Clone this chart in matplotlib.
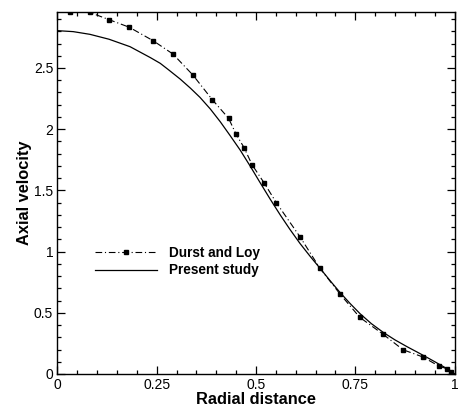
import numpy as np
from matplotlib import pyplot as plt
from matplotlib.ticker import MultipleLocator

plt.rcParams['font.family'] = ['Liberation Sans', 'DejaVu Sans']

# Durst and Loy (pontos medidos)
r_durst = [0.031, 0.081, 0.130, 0.181, 0.241, 0.291, 0.341, 0.390, 0.431, 0.450,
           0.470, 0.490, 0.521, 0.551, 0.611, 0.660, 0.712, 0.761, 0.820, 0.870,
           0.920, 0.961, 0.981, 0.991]
u_durst = [2.955, 2.955, 2.895, 2.833, 2.723, 2.614, 2.443, 2.241, 2.089, 1.958,
           1.849, 1.710, 1.558, 1.400, 1.119, 0.868, 0.651, 0.463, 0.324, 0.198,
           0.139, 0.063, 0.043, 0.014]

# Present study
r_pres = [0.0, 0.04, 0.082, 0.13, 0.183, 0.234, 0.259, 0.280, 0.309, 0.335,
          0.359, 0.385, 0.410, 0.435, 0.460, 0.485, 0.510, 0.535, 0.561, 0.585,
          0.611, 0.637, 0.662, 0.687, 0.712, 0.737, 0.762, 0.790, 0.821, 0.850,
          0.880, 0.905, 0.930, 0.950, 0.964, 0.980, 0.993, 1.0]
u_pres = [2.805, 2.797, 2.775, 2.735, 2.674, 2.585, 2.538, 2.485, 2.410, 2.335,
          2.260, 2.165, 2.061, 1.947, 1.830, 1.700, 1.565, 1.432, 1.299, 1.183,
          1.065, 0.958, 0.860, 0.760, 0.664, 0.575, 0.492, 0.412, 0.338, 0.278,
          0.223, 0.180, 0.136, 0.100, 0.074, 0.045, 0.019, 0.0]

fig = plt.figure(figsize=(4.6, 4.07), dpi=100)
ax = fig.add_axes([0.1246, 0.0811, 0.8639, 0.8887])

ax.plot(r_durst, u_durst, color='black', lw=0.8, ls=(0, (6, 2.5, 1, 2.5)),
        marker='s', markersize=3, label='Durst and Loy')
ax.plot(r_pres, u_pres, color='black', lw=0.9, label='Present study')

ax.set_xlim(0, 1)
ax.set_ylim(0, 2.955)
ax.xaxis.set_minor_locator(MultipleLocator(0.05))
ax.yaxis.set_minor_locator(MultipleLocator(0.1))
ax.set_xticks([0, 0.25, 0.5, 0.75, 1])
ax.set_xticklabels(['0', '0.25', '0.5', '0.75', '1'])
ax.set_yticks([0, 0.5, 1, 1.5, 2, 2.5])
ax.set_yticklabels(['0', '0.5', '1', '1.5', '2', '2.5'])
ax.tick_params(which='both', direction='in', top=True, right=True, labelsize=10, width=0.9)
ax.tick_params(which='major', length=6, pad=3)
ax.tick_params(which='minor', length=3)
for s in ax.spines.values():
    s.set_linewidth(1.0)

ax.set_xlabel('Radial distance', fontsize=11.8, fontweight='bold', labelpad=0)
ax.set_ylabel('Axial velocity', fontsize=11.8, fontweight='bold', labelpad=1)

ax.legend(loc='center left', bbox_to_anchor=(0.08, 0.311), frameon=False,
          prop={'weight': 'bold', 'size': 9.8}, handlelength=4.6,
          handletextpad=0.85, labelspacing=0.28, numpoints=1, borderaxespad=0)

fig.savefig('out.png', dpi=100)
